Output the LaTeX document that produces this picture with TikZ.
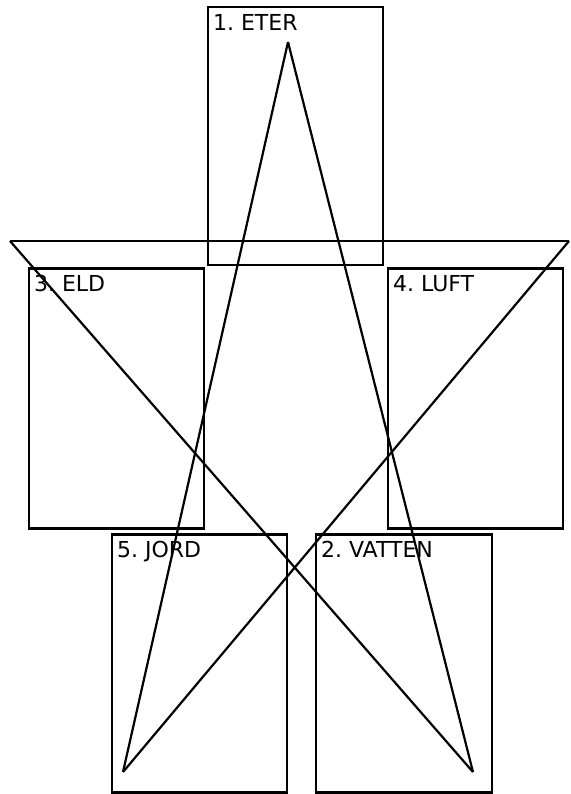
\documentclass[tikz,border=0pt]{standalone}
\usepackage{fontspec}
\setmainfont{DejaVu Sans}
\usetikzlibrary{positioning}

\begin{document}
\frenchspacing
\begin{tikzpicture}[x=1pt,y=-1pt,
  font=\fontsize{22}{26}\selectfont,
  elem/.style={draw,line width=2.2pt,minimum width=175pt,minimum height=258pt,inner sep=0pt},
  tag/.style={anchor=north west,inner sep=0pt},
  star/.style={line width=2.2pt,line join=miter}]
\useasboundingbox (0,0) rectangle (570,794);
% the five elements
\node[elem] (eter) at (295.5,136) {};
\node[elem,minimum height=260pt] (eld) at (116.5,398.5) {};
\node[elem,minimum height=260pt] (luft) at (475.5,398.5) {};
\node[elem] (jord) at (199.5,663.5) {};
\node[elem,minimum width=176pt] (vatten) at (404,663.5) {};
\node[tag] (eterlbl) at ([shift={(6,8)}]eter.north west) {1. ETER};
\node[tag] (eldlbl) at ([shift={(6,8)}]eld.north west) {3. ELD};
\node[tag] (luftlbl) at ([shift={(6,8)}]luft.north west) {4. LUFT};
\node[tag] (jordlbl) at ([shift={(6,8)}]jord.north west) {5. JORD};
\node[tag] (vattenlbl) at ([shift={(6,8)}]vatten.north west) {2. VATTEN};
% star points
\coordinate (top) at (288,42);
\coordinate (west) at (10,241);
\coordinate (east) at (569,241);
\coordinate (sw) at (123,772);
\coordinate (se) at (473,772);
\draw[star] (top) -- (sw);
\draw[star] (top) -- (se);
\draw[star] (west) -- (east);
\draw[star] (west) -- (se);
\draw[star] (east) -- (sw);
\end{tikzpicture}
\end{document}
